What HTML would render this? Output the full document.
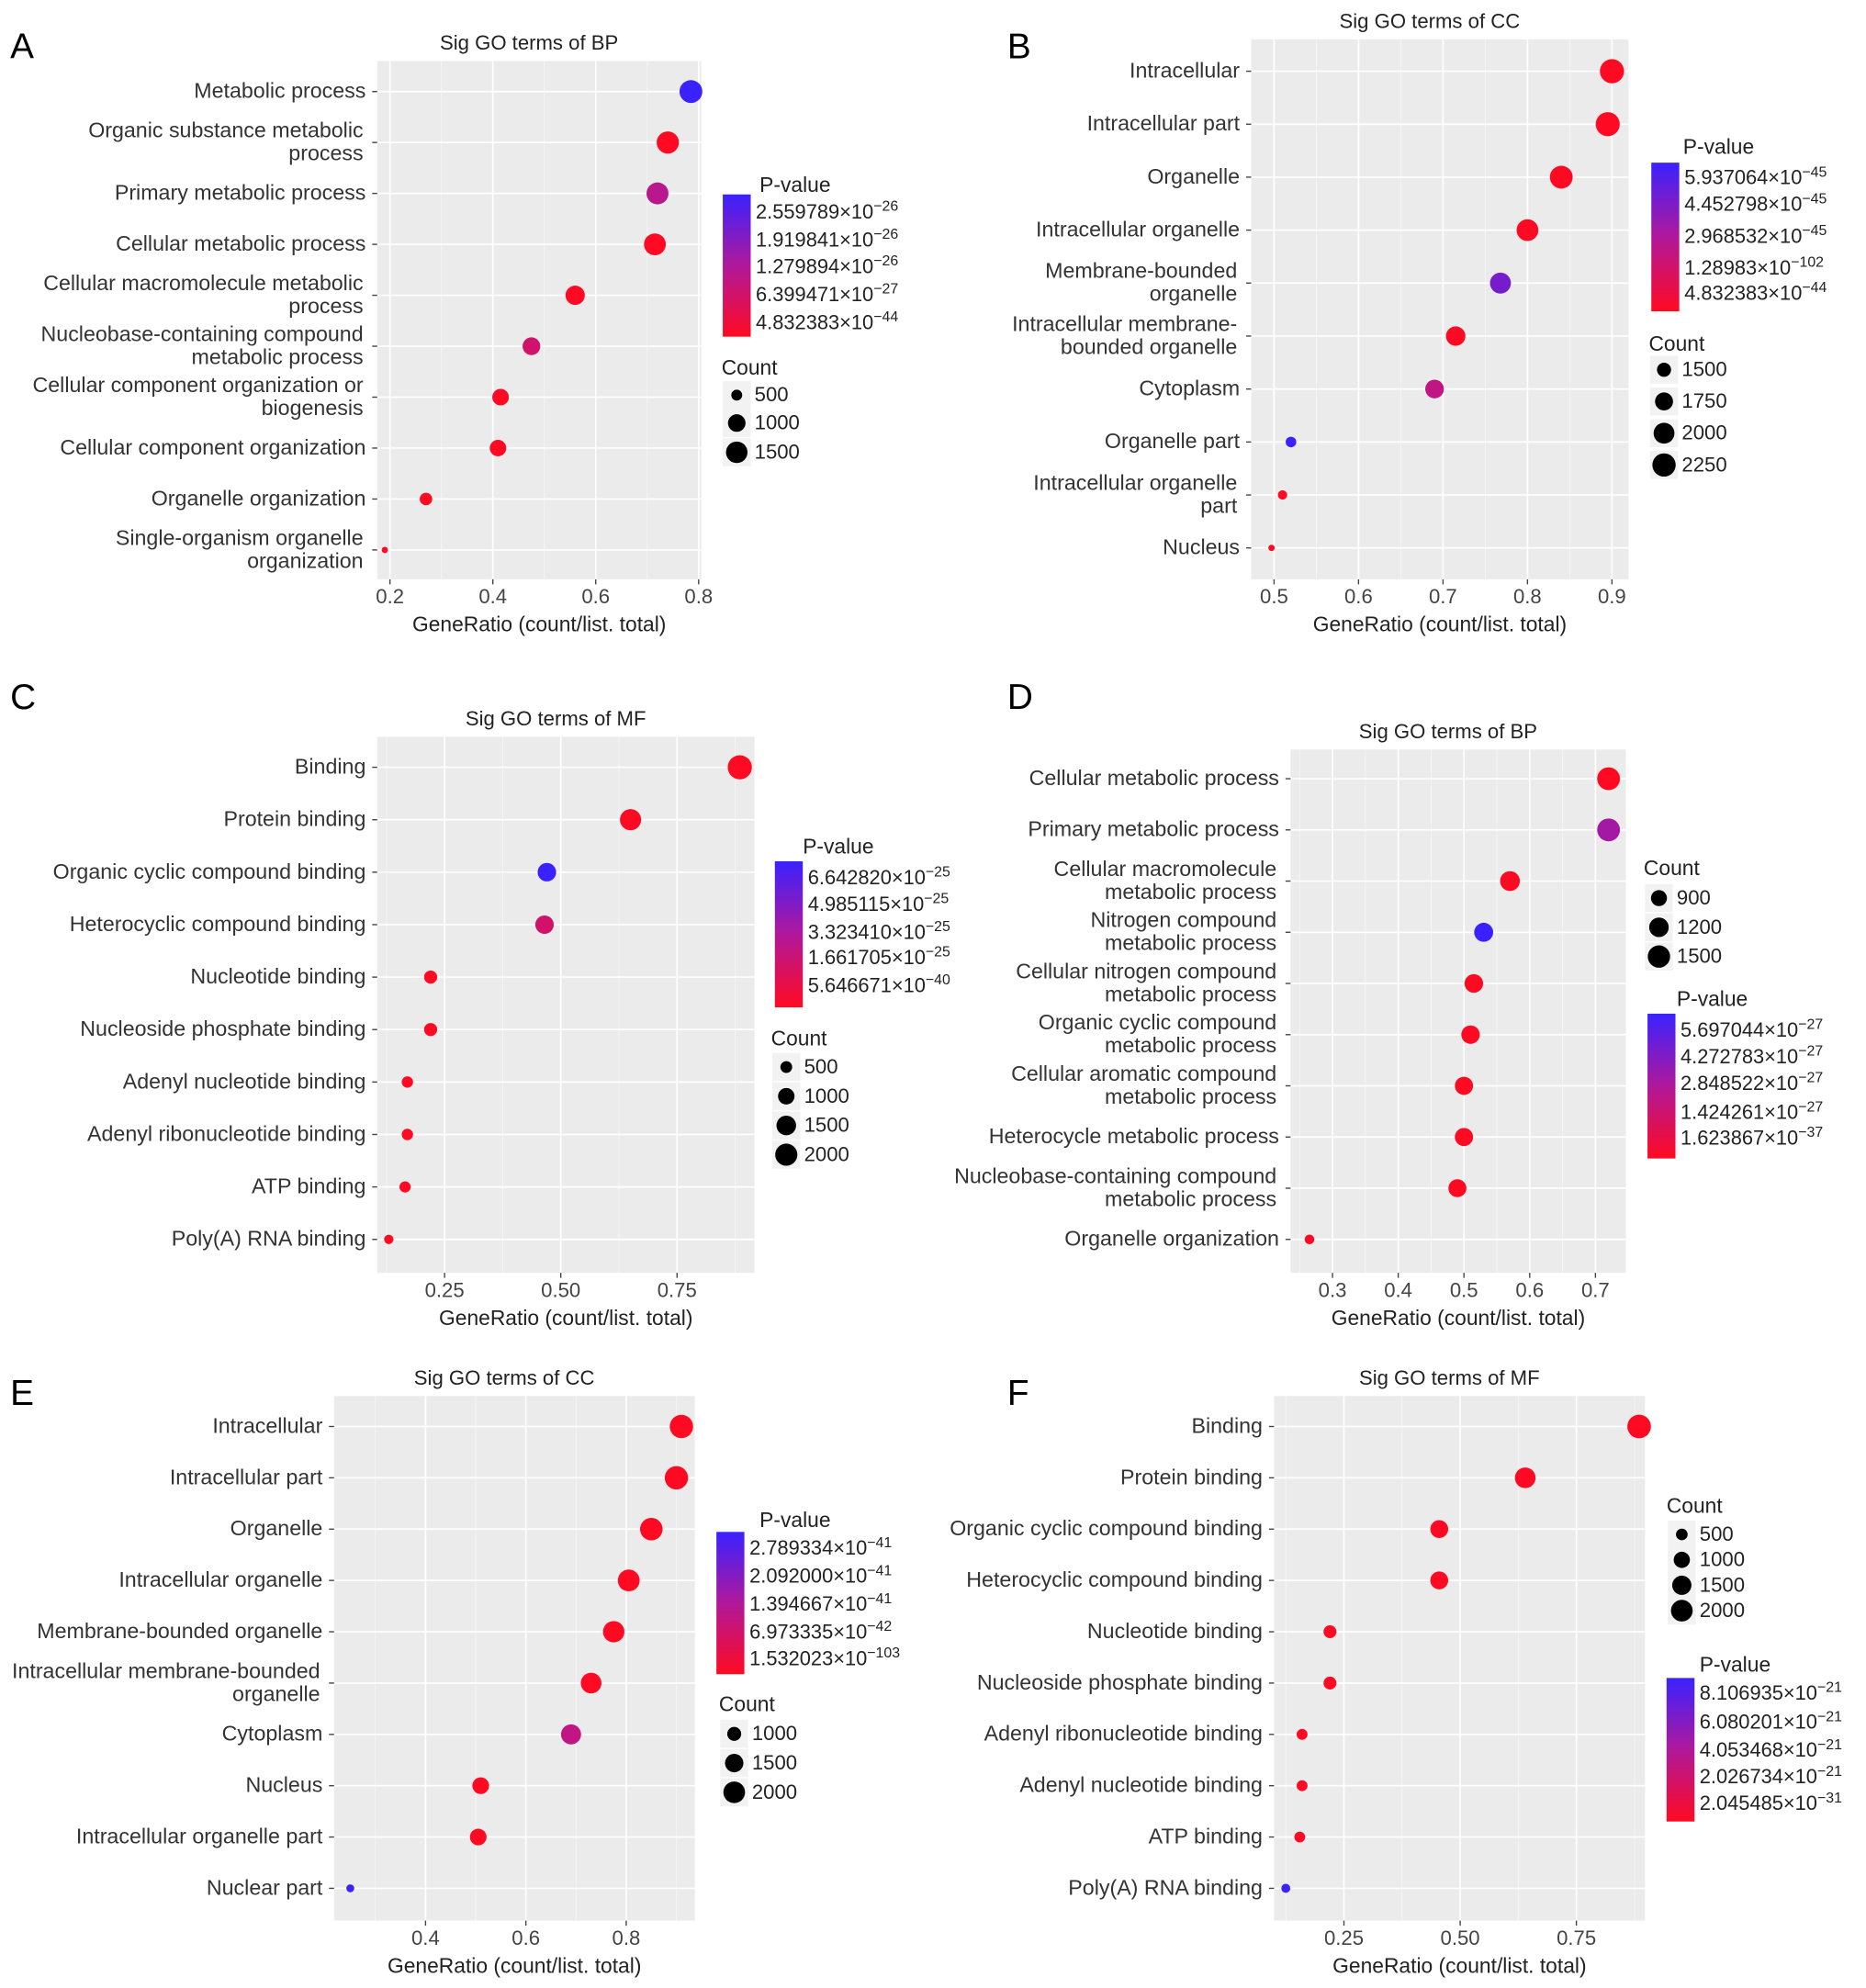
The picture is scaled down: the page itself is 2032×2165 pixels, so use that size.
<!DOCTYPE html>
<html><head><meta charset="utf-8"><style>
html,body{margin:0;padding:0;background:#fff}
svg{display:block;font-family:"Liberation Sans",Arial,sans-serif}
</style></head><body>
<svg id="fig" width="2032" height="2165" viewBox="0 0 1469 1565" xmlns="http://www.w3.org/2000/svg">
<defs>
<linearGradient id="pg" x1="0" y1="1" x2="0" y2="0"><stop offset="0" stop-color="#ff0a22"/><stop offset="0.5" stop-color="#b0189a"/><stop offset="1" stop-color="#3a22ff"/></linearGradient>
</defs>
</svg>
<script>
// ---- Panel data (small named arrays) ----
const termsA=["Metabolic process","Organic substance metabolic\nprocess","Primary metabolic process","Cellular metabolic process","Cellular macromolecule metabolic\nprocess","Nucleobase-containing compound\nmetabolic process","Cellular component organization or\nbiogenesis","Cellular component organization","Organelle organization","Single-organism organelle\norganization"];
const ratioA=[0.785,0.74,0.72,0.715,0.56,0.475,0.415,0.41,0.27,0.19];
const countA=[1700,1600,1560,1550,1200,1020,900,890,580,400];
const pvalA=[1,0,0.45,0,0,0.3,0,0,0,0];
const ticksA=[0.2,0.4,0.6,0.8];
const pLabA=["2.559789×10","1.919841×10","1.279894×10","6.399471×10","4.832383×10"];
const pExpA=["−26","−26","−26","−27","−44"];
const cLabA=["500","1000","1500"];

const termsB=["Intracellular","Intracellular part","Organelle","Intracellular organelle","Membrane-bounded\norganelle","Intracellular membrane-\nbounded organelle","Cytoplasm","Organelle part","Intracellular organelle\npart","Nucleus"];
const ratioB=[0.9,0.895,0.84,0.8,0.768,0.715,0.69,0.52,0.51,0.497];
const countB=[2350,2340,2200,2090,2010,1870,1800,1360,1330,1300];
const pvalB=[0,0,0,0,0.75,0,0.4,1,0,0];
const ticksB=[0.5,0.6,0.7,0.8,0.9];
const pLabB=["5.937064×10","4.452798×10","2.968532×10","1.28983×10","4.832383×10"];
const pExpB=["−45","−45","−45","−102","−44"];
const cLabB=["1500","1750","2000","2250"];

const termsC=["Binding","Protein binding","Organic cyclic compound binding","Heterocyclic compound binding","Nucleotide binding","Nucleoside phosphate binding","Adenyl nucleotide binding","Adenyl ribonucleotide binding","ATP binding","Poly(A) RNA binding"];
const ratioC=[0.885,0.65,0.47,0.465,0.22,0.22,0.17,0.17,0.165,0.13];
const countC=[2450,1800,1300,1290,610,610,470,470,460,360];
const pvalC=[0,0,1,0.3,0,0,0,0,0,0];
const ticksC=[0.25,0.5,0.75];
const pLabC=["6.642820×10","4.985115×10","3.323410×10","1.661705×10","5.646671×10"];
const pExpC=["−25","−25","−25","−25","−40"];
const cLabC=["500","1000","1500","2000"];

const termsD=["Cellular metabolic process","Primary metabolic process","Cellular macromolecule\nmetabolic process","Nitrogen compound\nmetabolic process","Cellular nitrogen compound\nmetabolic process","Organic cyclic compound\nmetabolic process","Cellular aromatic compound\nmetabolic process","Heterocycle metabolic process","Nucleobase-containing compound\nmetabolic process","Organelle organization"];
const ratioD=[0.72,0.72,0.57,0.53,0.515,0.51,0.5,0.5,0.49,0.265];
const countD=[1560,1555,1230,1150,1110,1100,1080,1080,1060,570];
const pvalD=[0,0.55,0,1,0,0,0,0,0,0];
const ticksD=[0.3,0.4,0.5,0.6,0.7];
const pLabD=["5.697044×10","4.272783×10","2.848522×10","1.424261×10","1.623867×10"];
const pExpD=["−27","−27","−27","−27","−37"];
const cLabD=["900","1200","1500"];

const termsE=["Intracellular","Intracellular part","Organelle","Intracellular organelle","Membrane-bounded organelle","Intracellular membrane-bounded\norganelle","Cytoplasm","Nucleus","Intracellular organelle part","Nuclear part"];
const ratioE=[0.91,0.9,0.85,0.805,0.775,0.73,0.69,0.51,0.505,0.25];
const countE=[2300,2290,2150,2030,1950,1840,1740,1290,1280,640];
const pvalE=[0,0,0,0,0,0,0.4,0,0,1];
const ticksE=[0.4,0.6,0.8];
const pLabE=["2.789334×10","2.092000×10","1.394667×10","6.973335×10","1.532023×10"];
const pExpE=["−41","−41","−41","−42","−103"];
const cLabE=["1000","1500","2000"];

const termsF=["Binding","Protein binding","Organic cyclic compound binding","Heterocyclic compound binding","Nucleotide binding","Nucleoside phosphate binding","Adenyl ribonucleotide binding","Adenyl nucleotide binding","ATP binding","Poly(A) RNA binding"];
const ratioF=[0.885,0.64,0.455,0.455,0.22,0.22,0.16,0.16,0.155,0.125];
const countF=[2450,1780,1260,1260,610,610,450,450,440,350];
const pvalF=[0,0,0,0,0,0,0,0,0,1];
const ticksF=[0.25,0.5,0.75];
const pLabF=["8.106935×10","6.080201×10","4.053468×10","2.026734×10","2.045485×10"];
const pExpF=["−21","−21","−21","−21","−31"];
const cLabF=["500","1000","1500","2000"];

// ---- layout config ----
const NS="http://www.w3.org/2000/svg";
const svg=document.getElementById('fig');
function mk(tag,attrs,parent,text){const e=document.createElementNS(NS,tag);for(const k in attrs)e.setAttribute(k,attrs[k]);if(text!==undefined)e.textContent=text;(parent||svg).appendChild(e);return e;}
function colorFor(f){const a=[255,10,34],m=[176,24,154],b=[58,34,255];let c;if(f<=0.5){const t=f/0.5;c=a.map((v,i)=>Math.round(v+(m[i]-v)*t));}else{const t=(f-0.5)/0.5;c=m.map((v,i)=>Math.round(v+(b[i]-v)*t));}return `rgb(${c[0]},${c[1]},${c[2]})`;}

const panels=[
 {id:'a',letter:'A',lx:8,ly:46,title:'Sig GO terms of BP',x0:297,x1:552,y0:48,y1:456,rowTop:72,rowStep:40.1,t0:0.2,p0:307,t1:0.8,p1:550,cmin:400,cmax:1700,rmin:2.5,rmax:9,terms:termsA,ratio:ratioA,count:countA,pval:pvalA,ticks:ticksA,pLab:pLabA,pExp:pExpA,cLab:cLabA,cVals:[500,1000,1500],pl:{tx:598,ty:151,bx:569,by:153,bh:112,ly:[167,189,210,232,254]},cl:{tx:568,ty:295,y:[311,333,356]}},
 {id:'b',letter:'B',lx:793,ly:46,title:'Sig GO terms of CC',x0:985,x1:1282,y0:31,y1:456,rowTop:56,rowStep:41.7,t0:0.5,p0:1003,t1:0.9,p1:1269,cmin:1300,cmax:2350,rmin:2.5,rmax:9.5,terms:termsB,ratio:ratioB,count:countB,pval:pvalB,ticks:ticksB,pLab:pLabB,pExp:pExpB,cLab:cLabB,cVals:[1500,1750,2000,2250],pl:{tx:1325,ty:121,bx:1300,by:128,bh:117,ly:[140,161,186,211,231]},cl:{tx:1298,ty:276,y:[291,316,341,366]}},
 {id:'c',letter:'C',lx:8,ly:558,title:'Sig GO terms of MF',x0:297,x1:594,y0:580,y1:1002,rowTop:604,rowStep:41.3,t0:0.25,p0:350,t1:0.75,p1:533,cmin:300,cmax:2450,rmin:2.5,rmax:9.5,terms:termsC,ratio:ratioC,count:countC,pval:pvalC,ticks:ticksC,pLab:pLabC,pExp:pExpC,cLab:cLabC,cVals:[500,1000,1500,2000],pl:{tx:632,ty:672,bx:610,by:678,bh:115,ly:[691,712,734,754,776]},cl:{tx:607,ty:823,y:[840,863,886,909]}},
 {id:'d',letter:'D',lx:793,ly:558,title:'Sig GO terms of BP',x0:1016,x1:1280,y0:590,y1:1002,rowTop:613,rowStep:40.3,t0:0.3,p0:1049,t1:0.7,p1:1256,cmin:500,cmax:1560,rmin:2,rmax:9,terms:termsD,ratio:ratioD,count:countD,pval:pvalD,ticks:ticksD,pLab:pLabD,pExp:pExpD,cLab:cLabD,cVals:[900,1200,1500],pl:{tx:1320,ty:792,bx:1297,by:798,bh:114,ly:[811,832,853,876,896]},cl:{tx:1294,ty:689,y:[707,730,753]}},
 {id:'e',letter:'E',lx:8,ly:1106,title:'Sig GO terms of CC',x0:263,x1:547,y0:1099,y1:1512,rowTop:1123,rowStep:40.4,t0:0.4,p0:335,t1:0.8,p1:493,cmin:600,cmax:2300,rmin:2,rmax:9.2,terms:termsE,ratio:ratioE,count:countE,pval:pvalE,ticks:ticksE,pLab:pLabE,pExp:pExpE,cLab:cLabE,cVals:[1000,1500,2000],pl:{tx:598,ty:1202,bx:564,by:1206,bh:112,ly:[1219,1241,1263,1285,1306]},cl:{tx:566,ty:1347,y:[1365,1388,1411]}},
 {id:'f',letter:'F',lx:793,ly:1106,title:'Sig GO terms of MF',x0:1003,x1:1295,y0:1099,y1:1512,rowTop:1123,rowStep:40.4,t0:0.25,p0:1058,t1:0.75,p1:1241,cmin:300,cmax:2450,rmin:2.5,rmax:9.3,terms:termsF,ratio:ratioF,count:countF,pval:pvalF,ticks:ticksF,pLab:pLabF,pExp:pExpF,cLab:cLabF,cVals:[500,1000,1500,2000],pl:{tx:1338,ty:1316,bx:1312,by:1321,bh:113,ly:[1333,1356,1378,1399,1420]},cl:{tx:1312,ty:1191,y:[1208,1228,1248,1268]}}
];

panels.forEach(P=>{
  const g=mk('g',{});
  
  
  const xs=v=>P.p0+(v-P.t0)*(P.p1-P.p0)/(P.t1-P.t0);
  const rs=c=>P.rmin+(P.rmax-P.rmin)*Math.sqrt(Math.max(0,(c-P.cmin)/(P.cmax-P.cmin)));
  const yr=i=>P.rowTop+i*P.rowStep;
  const L=mk('text',{x:P.lx,y:P.ly,'font-size':28,fill:'#000'},g,P.letter);
  
  
  const T=mk('text',{x:(P.x0+P.x1)/2-8,y:P.y0-9,'font-size':16,'text-anchor':'middle',fill:'#222'},g,P.title);
  
  
  const bg=mk('rect',{x:P.x0,y:P.y0,width:P.x1-P.x0,height:P.y1-P.y0,fill:'#ebebeb'},g);
  
  
  const step=P.ticks[1]-P.ticks[0];
  const dom0=P.t0+(P.x0-P.p0)*(P.t1-P.t0)/(P.p1-P.p0), dom1=P.t0+(P.x1-P.p0)*(P.t1-P.t0)/(P.p1-P.p0);
  for(let v=P.ticks[0]-step/2; v<=dom1; v+=step){ if(v<dom0)continue; mk('line',{x1:xs(v),x2:xs(v),y1:P.y0,y2:P.y1,stroke:'#f6f6f6','stroke-width':0.6},g);}
  P.ticks.forEach(t=>{
    const l=mk('line',{x1:xs(t),x2:xs(t),y1:P.y0,y2:P.y1,stroke:'#fff','stroke-width':1.2},g);
    
    
    mk('line',{x1:xs(t),x2:xs(t),y1:P.y1,y2:P.y1+4,stroke:'#444','stroke-width':1},g);
    const tl=mk('text',{x:xs(t),y:P.y1+19,'font-size':16,'text-anchor':'middle',fill:'#444'},g,step===0.25?t.toFixed(2):String(t));
    
    
  });
  const xt=mk('text',{x:(P.x0+P.x1)/2,y:P.y1+41,'font-size':16.5,'text-anchor':'middle',fill:'#222'},g,'GeneRatio (count/list. total)');
  
  
  P.terms.forEach((term,i)=>{
    const y=yr(i);
    mk('line',{x1:P.x0,x2:P.x1,y1:y,y2:y,stroke:'#fff','stroke-width':1.2},g);
    mk('line',{x1:P.x0-4,x2:P.x0,y1:y,y2:y,stroke:'#444','stroke-width':1},g);
    const lines=term.split('\n');
    lines.forEach((ln,k)=>{
      const off=lines.length===1?5:(k===0?-4:14);
      const t=mk('text',{x:P.x0-(lines.length===1?9:11),y:y+off,'font-size':16.8,'text-anchor':'end',fill:'#333'},g,ln);
      
      
    });
  });
  P.ratio.forEach((r,i)=>{
    const c=mk('circle',{cx:xs(r),cy:yr(i),r:rs(P.count[i]),fill:colorFor(P.pval[i])},g);
    
    
  });
  const pt=mk('text',{x:P.pl.tx,y:P.pl.ty,'font-size':16.5,fill:'#222'},g,'P-value');
  
  
  const cb=mk('rect',{x:P.pl.bx,y:P.pl.by,width:22,height:P.pl.bh,fill:'url(#pg)'},g);
  
  
  P.pLab.forEach((lab,k)=>{
    const t=mk('text',{x:P.pl.bx+26,y:P.pl.ly[k]+5,'font-size':15.8,fill:'#222'},g);
    
    
    mk('tspan',{},t,lab);
    mk('tspan',{dy:-6,'font-size':11.5},t,P.pExp[k]);
  });
  const ct=mk('text',{x:P.cl.tx,y:P.cl.ty,'font-size':16.5,fill:'#222'},g,'Count');
  
  
  P.cVals.forEach((v,k)=>{
    const cx=P.cl.tx+12, cy=P.cl.y[k];
    mk('rect',{x:cx-11,y:cy-11,width:22,height:22,fill:'#f2f2f2'},g);
    const c=mk('circle',{cx:cx,cy:cy,r:rs(v),fill:'#000'},g);
    
    
    const t=mk('text',{x:cx+14,y:cy+5,'font-size':16,fill:'#222'},g,P.cLab[k]);
    
    
  });
});
</script>
</body></html>
